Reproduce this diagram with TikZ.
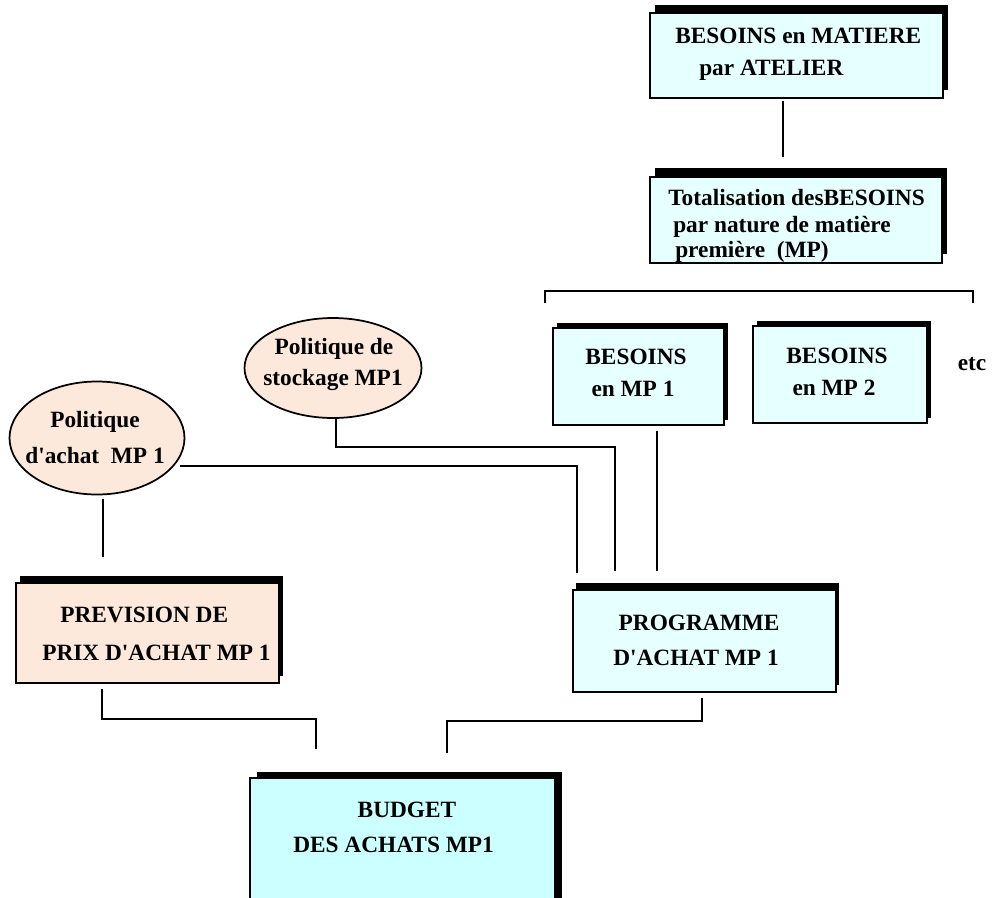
\documentclass[tikz,border=0pt]{standalone}
\usepackage{fontspec}
\setmainfont{Liberation Serif}
\newfontfamily\tnr{Liberation Serif}
\usetikzlibrary{shapes.geometric,shadows,calc}
\definecolor{cyanA}{RGB}{230,255,255}
\definecolor{cyanB}{RGB}{204,255,255}
\definecolor{peach}{RGB}{252,233,220}
\begin{document}
\begin{tikzpicture}[x=0.75pt,y=-0.75pt,
  every node/.style={font=\tnr\fontsize{17.5}{21}\selectfont\bfseries},
  shbox/.style 2 args={draw, line width=1.3pt, inner sep=0,
    drop shadow={shadow xshift=#1, shadow yshift=#2, opacity=1, fill=black}},
  oval/.style={ellipse, draw, line width=1.3pt, fill=peach, inner sep=0},
  lbl/.style={inner sep=0, text height=11.6pt, text depth=0pt},
  conn/.style={line width=1.4pt}]
\useasboundingbox (0,0) rectangle (992,897);
\fill[white] (0,0) rectangle (992,897);
\clip (0,0) rectangle (992,897);

% boxes
\node[shbox={3.75pt}{6pt}, fill=cyanA, minimum width=219.75pt, minimum height=63.75pt] (b1) at (796.5,55.5) {};
\node[shbox={3.75pt}{6.75pt}, fill=cyanA, minimum width=219pt, minimum height=64.5pt] (b2) at (796,220) {};
\node[shbox={3pt}{3.75pt}, fill=cyanA, minimum width=128.25pt, minimum height=72.75pt] (mp1) at (638.5,376.5) {};
\node[shbox={3pt}{3.5pt}, fill=cyanA, minimum width=130.5pt, minimum height=72.75pt] (mp2) at (840,374.5) {};
\node[shbox={2.25pt}{5.25pt}, fill=cyanA, minimum width=197.25pt, minimum height=76.5pt] (prog) at (704.5,641) {};
\node[shbox={3pt}{5.25pt}, fill=peach, minimum width=197.25pt, minimum height=75pt] (prev) at (147.5,633) {};
\node[shbox={5.25pt}{4.5pt}, fill=cyanB, minimum width=228.75pt, minimum height=106.5pt] (bud) at (402.5,849) {};

% ellipses
\node[oval, minimum width=131.25pt, minimum height=84.75pt] (achat) at (97,438) {};
\node[oval, minimum width=132.75pt, minimum height=75pt] (stock) at (333,368) {};

% texts
\node[lbl, anchor=west] (t1a) at (675,36) {BESOINS en MATIERE};
\node[lbl, anchor=west] (t1b) at (699,68) {par ATELIER};
\node[lbl, anchor=west] (t2a) at (668,197.5) {Totalisation desBESOINS};
\node[lbl, anchor=west] (t2b) at (673,224.5) {par nature de matière};
\node[lbl, anchor=west] (t2c) at (675,249.5) {première\ \ (MP)};
\node[lbl] (t3a) at (636,357) {BESOINS};
\node[lbl] (t3b) at (633,389) {en MP 1};
\node[lbl] (t4a) at (837,355.5) {BESOINS};
\node[lbl] (t4b) at (834,388) {en MP 2};
\node[lbl] (etc) at (972,363) {etc};
\node[lbl] (t5a) at (95,420) {Politique};
\node[lbl] (t5b) at (95,456) {d'achat\ \ MP 1};
\node[lbl] (t6a) at (334,346.5) {Politique de};
\node[lbl] (t6b) at (333,378) {stockage MP1};
\node[lbl, anchor=west] (t7a) at (60,615) {PREVISION DE};
\node[lbl, anchor=west] (t7b) at (42,653) {PRIX D'ACHAT MP 1};
\node[lbl] (t8a) at (699,622.5) {PROGRAMME};
\node[lbl] (t8b) at (696,658) {D'ACHAT MP 1};
\node[lbl] (t9a) at (407,810) {BUDGET};
\node[lbl, anchor=west] (t9b) at (293,845) {DES ACHATS MP1};

% bracket
\coordinate (brL) at (545,291);
\coordinate (brR) at (973,291);
\draw[conn] ($(brL)+(0,12)$) -- (brL) -- (brR) -- ($(brR)+(0,12)$);

% connectors
\draw[conn] ($(b1.south)+(-13.5,2)$) -- ($(b2.north)+(-13,-19)$);
\draw[conn] ($(mp1.south)+(18.5,5)$) -- ($(prog.north)+(-47.5,-18)$);
\draw[conn] ($(stock.south)+(3,0)$) |- ($(prog.north)+(-89.5,-142)$) -- ($(prog.north)+(-89.5,-18)$);
\draw[conn] ($(achat)+(83,28)$) -| ($(prog.north)+(-127.5,-16)$);
\draw[conn] ($(achat.south)+(6,4)$) -- ($(prev.north)+(-44.5,-25)$);
\draw[conn] ($(prev.south)+(-45.5,5)$) |- ($(bud.north)+(-86.5,-58)$) -- ($(bud.north)+(-86.5,-28)$);
\draw[conn] ($(prog.south)+(-2.5,5)$) |- ($(bud.north)+(44.5,-56)$) -- ($(bud.north)+(44.5,-24)$);
\end{tikzpicture}
\end{document}
